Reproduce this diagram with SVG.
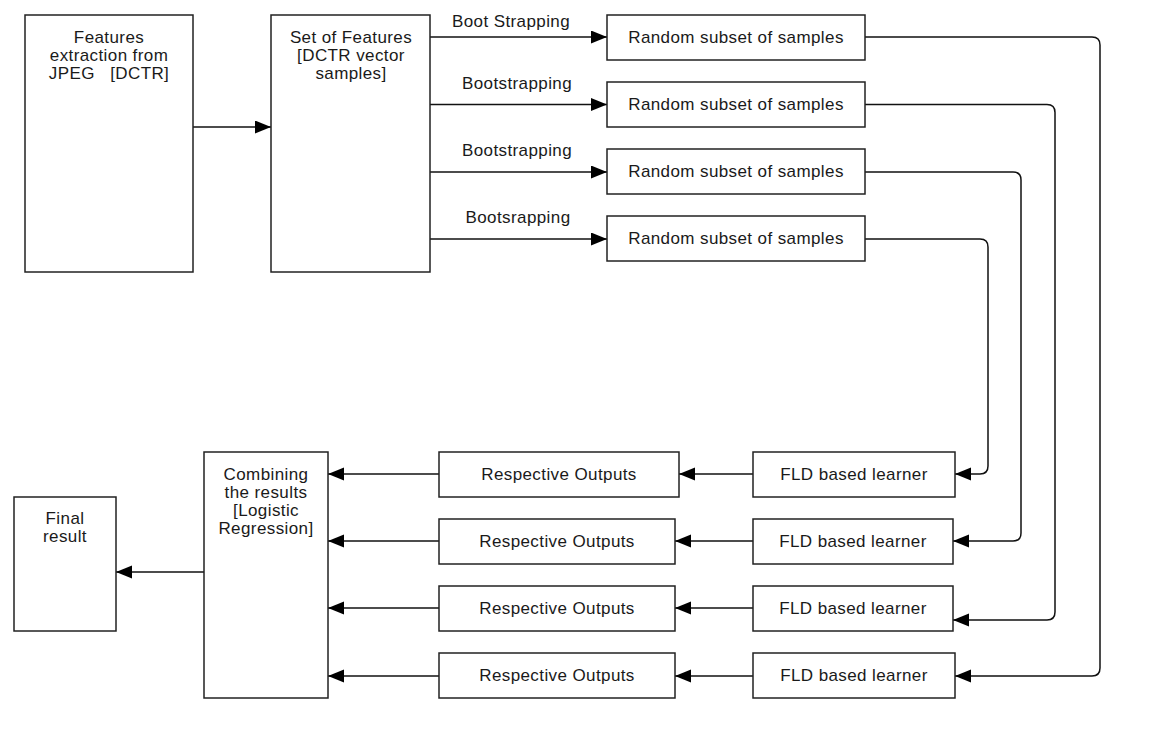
<svg xmlns="http://www.w3.org/2000/svg" width="1157" height="754" viewBox="0 0 1157 754">
<style>
.box{fill:#fff;stroke:#222;stroke-width:1.5}
.t{font-family:"Liberation Sans",Arial,sans-serif;font-size:17px;letter-spacing:0.4px;fill:#1a1a1a;text-anchor:middle;white-space:pre}
.c{fill:none;stroke:#111;stroke-width:1.5;marker-end:url(#ah)}
</style>
<defs>
<marker id="ah" markerUnits="userSpaceOnUse" markerWidth="17" markerHeight="14" refX="16" refY="6.5" orient="auto">
<path d="M0,0 L16,6.5 L0,13 Z" fill="#000"/>
</marker>
</defs>
<rect width="1157" height="754" fill="#fff"/>
<g id="connectors">
<path class="c" d="M193,127 H271"/>
<path class="c" d="M430,37 H607"/>
<path class="c" d="M430,104.5 H607"/>
<path class="c" d="M430,172 H607"/>
<path class="c" d="M430,239 H607"/>
<path class="c" d="M865,37 H1092 Q1100,37 1100,45 V668 Q1100,676 1092,676 H955"/>
<path class="c" d="M865,104.5 H1047 Q1055,104.5 1055,112.5 V612 Q1055,620 1047,620 H953"/>
<path class="c" d="M865,172 H1013 Q1021,172 1021,180 V533 Q1021,541 1013,541 H953"/>
<path class="c" d="M865,239 H980 Q988,239 988,247 V466 Q988,474 980,474 H955"/>
<path class="c" d="M753,474 H679"/>
<path class="c" d="M753,541 H675"/>
<path class="c" d="M753,608 H675"/>
<path class="c" d="M753,676 H675"/>
<path class="c" d="M439,474 H328"/>
<path class="c" d="M439,541 H328"/>
<path class="c" d="M439,608 H328"/>
<path class="c" d="M439,676 H328"/>
<path class="c" d="M204,572 H116"/>
<text class="t" x="511" y="27">Boot Strapping</text>
<text class="t" x="517" y="89">Bootstrapping</text>
<text class="t" x="517" y="156">Bootstrapping</text>
<text class="t" x="518" y="223">Bootsrapping</text>
</g>
<g id="n-extract">
<rect class="box" x="25" y="15" width="168" height="257"/>
<text class="t" x="109" y="43">Features</text>
<text class="t" x="109" y="61">extraction from</text>
<text class="t" x="109" y="79">JPEG   [DCTR]</text>
</g>
<g id="n-set">
<rect class="box" x="271" y="15" width="159" height="257"/>
<text class="t" x="351" y="43">Set of Features</text>
<text class="t" x="351" y="61">[DCTR vector</text>
<text class="t" x="351" y="79">samples]</text>
</g>
<g id="n-rand1"><rect class="box" x="607" y="15" width="258" height="45"/><text class="t" x="736" y="43">Random subset of samples</text></g>
<g id="n-rand2"><rect class="box" x="607" y="82" width="258" height="45"/><text class="t" x="736" y="110">Random subset of samples</text></g>
<g id="n-rand3"><rect class="box" x="607" y="149" width="258" height="45"/><text class="t" x="736" y="177">Random subset of samples</text></g>
<g id="n-rand4"><rect class="box" x="607" y="216" width="258" height="45"/><text class="t" x="736" y="244">Random subset of samples</text></g>
<g id="n-fld1"><rect class="box" x="753" y="452" width="202" height="45"/><text class="t" x="854" y="480">FLD based learner</text></g>
<g id="n-fld2"><rect class="box" x="753" y="519" width="200" height="45"/><text class="t" x="853" y="547">FLD based learner</text></g>
<g id="n-fld3"><rect class="box" x="753" y="586" width="200" height="45"/><text class="t" x="853" y="614">FLD based learner</text></g>
<g id="n-fld4"><rect class="box" x="753" y="653" width="202" height="45"/><text class="t" x="854" y="681">FLD based learner</text></g>
<g id="n-out1"><rect class="box" x="439" y="452" width="240" height="45"/><text class="t" x="559" y="480">Respective Outputs</text></g>
<g id="n-out2"><rect class="box" x="439" y="519" width="236" height="45"/><text class="t" x="557" y="547">Respective Outputs</text></g>
<g id="n-out3"><rect class="box" x="439" y="586" width="236" height="45"/><text class="t" x="557" y="614">Respective Outputs</text></g>
<g id="n-out4"><rect class="box" x="439" y="653" width="236" height="45"/><text class="t" x="557" y="681">Respective Outputs</text></g>
<g id="n-combine">
<rect class="box" x="204" y="452" width="124" height="246"/>
<text class="t" x="266" y="480">Combining</text>
<text class="t" x="266" y="498">the results</text>
<text class="t" x="266" y="516">[Logistic</text>
<text class="t" x="266" y="534">Regression]</text>
</g>
<g id="n-final">
<rect class="box" x="14" y="497" width="102" height="134"/>
<text class="t" x="65" y="524">Final</text>
<text class="t" x="65" y="542">result</text>
</g>
</svg>
